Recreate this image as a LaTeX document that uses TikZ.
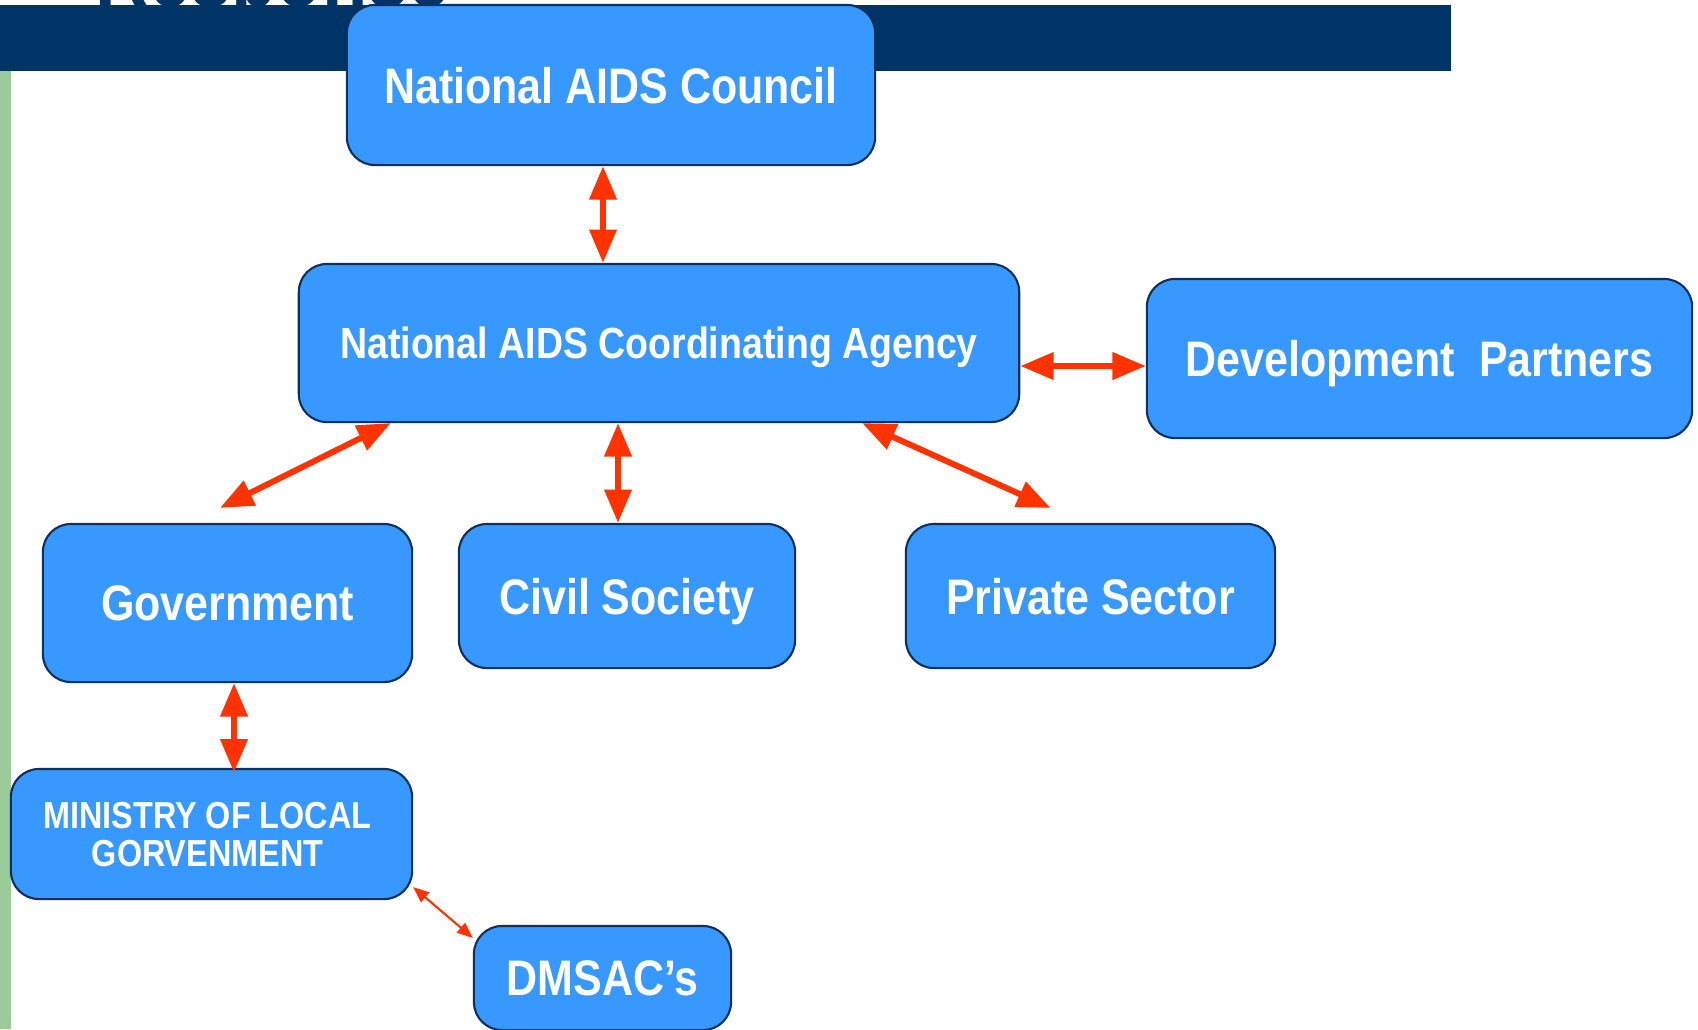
\documentclass[tikz,border=0pt]{standalone}
\usepackage{fontspec}
\newfontfamily\boxfont[FakeStretch=0.86]{Liberation Sans}
\usetikzlibrary{arrows.meta}

\definecolor{barblue}{RGB}{0,51,102}
\definecolor{boxblue}{RGB}{55,153,255}
\definecolor{boxline}{RGB}{16,48,92}
\definecolor{linkred}{RGB}{255,51,0}
\definecolor{stripgreen}{RGB}{153,204,153}

\tikzset{
  unit/.style={draw=boxline, line width=0.6pt, fill=boxblue, rounded corners=0.28cm,
    text=white, inner sep=0pt, align=center, text depth=0pt,
    font=\boxfont\bfseries\fontsize{14.2}{16}\selectfont},
  link/.style={draw=linkred, line width=1.7pt,
    {Triangle[length=9.5pt,width=7.5pt]}-{Triangle[length=9.5pt,width=7.5pt]}},
  thinlink/.style={draw=linkred, line width=0.6pt,
    {Triangle[length=4.5pt,width=3.6pt]}-{Triangle[length=4.5pt,width=3.6pt]}}
}

\begin{document}
\begin{tikzpicture}[x=0.01cm,y=-0.01cm]
    \useasboundingbox (0,0) rectangle (1698,1029);

    % title bar and side strip
    \fill[barblue] (0,5) rectangle (1451,71);
    \node[anchor=base west, inner sep=0pt, text=barblue,
      font=\boxfont\bfseries\fontsize{24.5}{28}\selectfont] (title) at (95,6) {Response};
    \fill[stripgreen] (0,71) rectangle (11,1029);

    % boxes
    \node[unit, minimum width=5.28cm, minimum height=1.6cm] (nac) at (611,85) {National AIDS Council};
    \node[unit, minimum width=7.2cm, minimum height=1.58cm,
      font=\boxfont\bfseries\fontsize{12.4}{14}\selectfont] (naca) at (659,343) {National AIDS Coordinating Agency};
    \node[unit, minimum width=5.45cm, minimum height=1.59cm] (dp) at (1419.5,358.5) {Development\ \ Partners};
    \node[unit, minimum width=3.69cm, minimum height=1.58cm] (gov) at (227.5,603) {Government};
    \node[unit, minimum width=3.36cm, minimum height=1.44cm] (cs) at (627,596) {Civil Society};
    \node[unit, minimum width=3.69cm, minimum height=1.44cm] (ps) at (1090.5,596) {Private Sector};
    \node[unit, minimum width=4.01cm, minimum height=1.3cm,
      font=\boxfont\bfseries\fontsize{10.7}{10.8}\selectfont] (mlg) at (211.5,834) {MINISTRY OF LOCAL\hspace*{0.08cm}\\GORVENMENT\hspace*{0.08cm}};
    \node[unit, minimum width=2.57cm, minimum height=1.04cm] (dmsac) at (602.5,978) {DMSAC’s};

    % links
    \draw[link] ([xshift=-0.08cm]nac.south) -- ([xshift=-0.08cm]nac.south |- naca.north);
    \draw[link] ([yshift=-0.075cm]dp.west -| naca.east) -- ([yshift=-0.075cm]dp.west);
    \draw[link] ([xshift=0.93cm]naca.south west) -- ([xshift=-0.075cm,yshift=0.15cm]gov.north);
    \draw[link] ([xshift=-0.09cm]cs.north |- naca.south) -- ([xshift=-0.09cm]cs.north);
    \draw[link] ([xshift=-1.58cm]naca.south east) -- ([xshift=-0.4cm,yshift=0.15cm]ps.north);
    \draw[link] ([xshift=0.065cm]gov.south) -- ([xshift=0.065cm,yshift=-0.045cm]gov.south |- mlg.north);
    \draw[thinlink] ([yshift=0.13cm]mlg.south east) -- ([yshift=-0.13cm]dmsac.north west);
\end{tikzpicture}
\end{document}
